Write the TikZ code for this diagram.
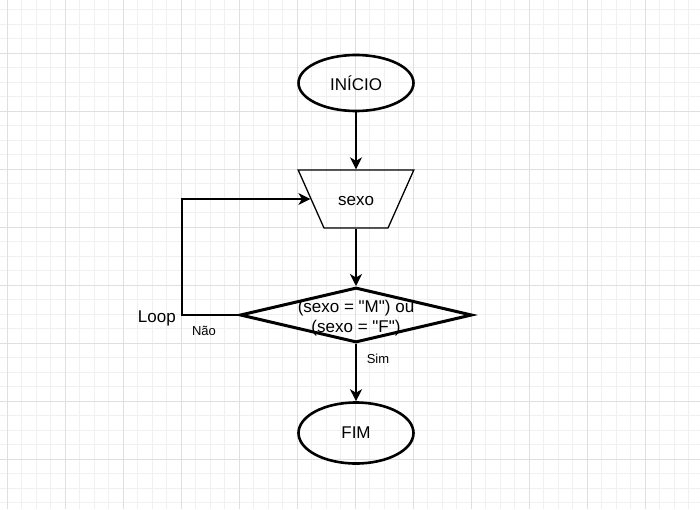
\documentclass[tikz,border=0pt]{standalone}
\usepackage{fontspec}
\newfontfamily\flowfont{Liberation Sans}
\usetikzlibrary{shapes.geometric, arrows.meta}

\begin{document}
\begin{tikzpicture}[
    x=1pt, y=-1pt,
    every node/.style={font=\flowfont\fontsize{17}{20}\selectfont, text=black},
    terminal/.style={ellipse, draw, line width=2.6pt, minimum width=115pt, minimum height=56pt, inner sep=0pt},
    inputbox/.style={trapezium, draw, line width=1.3pt, shape border rotate=180,
        trapezium left angle=66, trapezium right angle=66,
        text width=64pt, align=center, text height=13pt, text depth=0pt,
        inner xsep=0pt, inner ysep=22.5pt},
    decision/.style={diamond, draw, line width=3pt, minimum width=232pt, minimum height=55pt, inner sep=0pt},
    edge/.style={draw, -{Stealth[length=12pt, width=12pt, inset=3.5pt]}, line width=1.5pt},
    small/.style={font=\flowfont\fontsize{13}{15}\selectfont},
    minorgrid/.style={draw=gray!12, line width=1pt},
    majorgrid/.style={draw=gray!25, line width=1pt}
]
% Background and grid
\fill[white] (0,0) rectangle (700,509);
\useasboundingbox (0,0) rectangle (700,509);
\foreach \i in {0,...,47} {
    \draw[minorgrid] ({7+14.5*\i},0) -- ({7+14.5*\i},509);
}
\foreach \j in {0,...,34} {
    \draw[minorgrid] (0,{9.5+14.5*\j}) -- (700,{9.5+14.5*\j});
}
\foreach \i in {0,...,11} {
    \draw[majorgrid] ({7+58*\i},0) -- ({7+58*\i},509);
}
\foreach \j in {0,...,7} {
    \draw[majorgrid] (0,{53+58*\j}) -- (700,{53+58*\j});
}

% Flow
\node[terminal] (start) at (356,83) {INÍCIO};
\node[inputbox] (sexo) at (356,199) {sexo};
\node[decision, label={[align=center, yshift=-3pt]center:{(sexo = "M") ou\\(sexo = "F")}}] (cond) at (356,315) {};
\node[terminal, minimum height=61pt] (fim) at (356,433) {FIM};

% Loop corner
\coordinate (loopcorner) at (182,315);

% Edges
\draw[edge] (start) -- (sexo);
\draw[edge] (sexo) -- (cond);
\draw[edge] (cond) -- (fim);
\draw[edge] (cond.west) -- (loopcorner) |- (sexo);

% Labels
\node[anchor=east, inner sep=0pt] (looplbl) at (176,318) {Loop};
\node[small] (nao) at (204,331) {Não};
\node[small] (sim) at (378,359) {Sim};
\end{tikzpicture}
\end{document}
